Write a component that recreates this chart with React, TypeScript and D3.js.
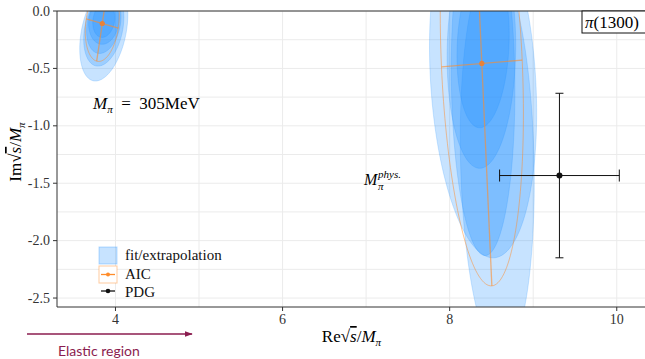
import React from "react";
import * as d3 from "d3";

const W = 645;
const H = 359;

// axis ticks
const xTicks = [4, 6, 8, 10];
const yTicks = [0, -0.5, -1, -1.5, -2, -2.5];
const xGrid = [4, 5, 6, 7, 8, 9, 10];
const yGrid = [0, -0.25, -0.5, -0.75, -1, -1.25, -1.5, -1.75, -2, -2.25, -2.5];

// fit/extrapolation ellipses: centre + two semi-axis vectors (data units)
const fitEllipsesLow = [
  { cx: 3.86, cy: -0.18, ux: 0.27, uy: 0, vx: 0.1, vy: 0.43 },
  { cx: 3.86, cy: -0.15, ux: 0.23, uy: 0, vx: 0.07, vy: 0.33 },
  { cx: 3.86, cy: -0.11, ux: 0.2, uy: 0, vx: 0.05, vy: 0.26 },
  { cx: 3.86, cy: -0.09, ux: 0.18, uy: 0, vx: 0.02, vy: 0.2 },
  { cx: 3.86, cy: -0.08, ux: 0.13, uy: 0, vx: 0.02, vy: 0.15 },
];
const fitEllipsesHigh = [
  { cx: 8.4, cy: -0.6, ux: 0.63, uy: 0, vx: -0.12, vy: 1.55 },
  { cx: 8.57, cy: -1.3, ux: 0.44, uy: 0, vx: -0.05, vy: 1.7 },
  { cx: 8.4, cy: -0.6, ux: 0.38, uy: 0, vx: -0.025, vy: 1.53 },
  { cx: 8.38, cy: -0.35, ux: 0.41, uy: 0, vx: 0.02, vy: 1.02 },
  { cx: 8.4, cy: -0.3, ux: 0.31, uy: 0, vx: 0.04, vy: 0.717 },
];

// AIC averaged poles with their error ellipses
const aicPoles = [
  { cx: 3.842, cy: -0.109, ux: 0.192, uy: -0.04, vx: -0.067, vy: -0.328 },
  { cx: 8.385, cy: -0.457, ux: 0.483, uy: 0.03, vx: 0.12, vy: -1.937 },
];

// PDG pi(1300): M = 1300 +- 100 MeV, Gamma = 200..600 MeV, in units of M_pi(phys)
const pdgX = [9.314];
const pdgY = [-1.433];
const pdgErrX = [0.7165];
const pdgErrY = [0.7165];

const BLUE = "rgb(30,144,255)";
const ORANGE = "rgb(255,140,42)";
const MAROON = "#8b1d4f";
const SERIF = "Liberation Serif, DejaVu Serif, serif";
const SANS = "Lato, Open Sans, sans-serif";

export default function App() {
  const x = d3.scaleLinear().domain([3.3, 10.35]).range([57, 646]);
  const y = d3.scaleLinear().domain([-2.578, 0]).range([307, 11]);
  const [x0, x1] = x.range();
  const [yb, yt] = y.range();

  const ellipsePath = (e: any) => {
    const pts = d3.range(0, 160).map((i) => {
      const t = (i / 160) * 2 * Math.PI;
      return [
        x(e.cx + e.ux * Math.cos(t) + e.vx * Math.sin(t)),
        y(e.cy + e.uy * Math.cos(t) + e.vy * Math.sin(t)),
      ] as [number, number];
    });
    return d3.line().curve(d3.curveLinearClosed)(pts) || "";
  };

  const allFit = [...fitEllipsesLow, ...fitEllipsesHigh];

  return (
    <svg
      width={W}
      height={H}
      style={{ position: "fixed", left: 0, top: 0, background: "#fff", fontFamily: SERIF }}
    >
      <defs>
        <clipPath id="plot">
          <rect x={x0} y={yt} width={x1 - x0} height={yb - yt} />
        </clipPath>
        <marker id="arr" viewBox="0 0 10 10" refX={9} refY={5} markerWidth={8} markerHeight={8} orient="auto" markerUnits="userSpaceOnUse">
          <path d="M0,1.5 L10,5 L0,8.5 Z" fill={MAROON} />
        </marker>
      </defs>

      {/* grid */}
      <g stroke="#ebebeb" strokeWidth={1}>
        {xGrid.map((v) => (
          <line key={"gx" + v} x1={x(v)} x2={x(v)} y1={yt} y2={yb} />
        ))}
        {yGrid.map((v) => (
          <line key={"gy" + v} x1={x0} x2={x1} y1={y(v)} y2={y(v)} />
        ))}
      </g>

      {/* ellipses */}
      <g clipPath="url(#plot)">
        {allFit.map((e, i) => (
          <path
            key={"f" + i}
            d={ellipsePath(e)}
            fill={BLUE}
            fillOpacity={0.25}
            stroke={BLUE}
            strokeOpacity={0.25}
            strokeWidth={0.8}
          />
        ))}
        {aicPoles.map((e, i) => (
          <g key={"a" + i}>
            <path d={ellipsePath(e)} fill="none" stroke={ORANGE} strokeOpacity={0.5} strokeWidth={1} />
            <line
              x1={x(e.cx - e.ux)}
              y1={y(e.cy - e.uy)}
              x2={x(e.cx + e.ux)}
              y2={y(e.cy + e.uy)}
              stroke={ORANGE}
              strokeOpacity={0.6}
              strokeWidth={1.3}
            />
            <line
              x1={x(e.cx - e.vx)}
              y1={y(e.cy - e.vy)}
              x2={x(e.cx + e.vx)}
              y2={y(e.cy + e.vy)}
              stroke={ORANGE}
              strokeOpacity={0.6}
              strokeWidth={1.3}
            />
            <circle cx={x(e.cx)} cy={y(e.cy)} r={2.6} fill="rgb(232,130,55)" />
          </g>
        ))}
        {/* PDG */}
        {pdgX.map((px, i) => (
          <g key={"p" + i} stroke="#111" strokeWidth={1}>
            <line x1={x(px - pdgErrX[i])} x2={x(px + pdgErrX[i])} y1={y(pdgY[i])} y2={y(pdgY[i])} />
            <line x1={x(px - pdgErrX[i])} x2={x(px - pdgErrX[i])} y1={y(pdgY[i]) - 6} y2={y(pdgY[i]) + 6} />
            <line x1={x(px + pdgErrX[i])} x2={x(px + pdgErrX[i])} y1={y(pdgY[i]) - 6} y2={y(pdgY[i]) + 6} />
            <line x1={x(px)} x2={x(px)} y1={y(pdgY[i] - pdgErrY[i])} y2={y(pdgY[i] + pdgErrY[i])} />
            <line x1={x(px) - 4} x2={x(px) + 4} y1={y(pdgY[i] - pdgErrY[i])} y2={y(pdgY[i] - pdgErrY[i])} />
            <line x1={x(px) - 4} x2={x(px) + 4} y1={y(pdgY[i] + pdgErrY[i])} y2={y(pdgY[i] + pdgErrY[i])} />
            <circle cx={x(px)} cy={y(pdgY[i])} r={3} fill="#111" stroke="none" />
          </g>
        ))}
      </g>

      {/* axes */}
      <g stroke="#333" strokeWidth={1}>
        <line x1={x0} x2={x0} y1={yt} y2={yb} />
        <line x1={x0} x2={x1} y1={yb} y2={yb} />
        <line x1={x0} x2={x1} y1={yt} y2={yt} />
        {yTicks.map((v) => (
          <line key={"ty" + v} x1={x0 - 4} x2={x0} y1={y(v)} y2={y(v)} />
        ))}
        {xTicks.map((v) => (
          <line key={"tx" + v} x1={x(v)} x2={x(v)} y1={yb} y2={yb + 4} />
        ))}
      </g>
      <g fontSize={14} fill="#333" style={{ fontFamily: SERIF }}>
        {yTicks.map((v) => (
          <text key={"ly" + v} x={x0 - 7} y={y(v) + 4.5} textAnchor="end" style={{ fontFamily: SERIF }}>
            {d3.format(".1f")(v).replace("−", "-")}
          </text>
        ))}
        {xTicks.map((v) => (
          <text key={"lx" + v} x={x(v)} y={yb + 17} textAnchor="middle" style={{ fontFamily: SERIF }}>
            {v}
          </text>
        ))}
      </g>

      {/* axis titles */}
      <text x={(x0 + x1) / 2} y={342} textAnchor="middle" fontSize={17} style={{ fontFamily: SERIF }}>
        Re√<tspan fontStyle="italic" textDecoration="overline">s</tspan>/<tspan fontStyle="italic">M</tspan>
        <tspan fontStyle="italic" fontSize={11} dy={4}>π</tspan>
      </text>
      <text transform="translate(21,152) rotate(-90)" textAnchor="middle" fontSize={17} style={{ fontFamily: SERIF }}>
        Im√<tspan fontStyle="italic" textDecoration="overline">s</tspan>/<tspan fontStyle="italic">M</tspan>
        <tspan fontStyle="italic" fontSize={11} dy={4}>π</tspan>
      </text>

      {/* annotations */}
      <text x={93} y={109} fontSize={17} style={{ fontFamily: SERIF }}>
        <tspan fontStyle="italic">M</tspan>
        <tspan fontStyle="italic" fontSize={11} dy={4}>π</tspan>
        <tspan dy={-4}>{"\u2002=\u2002305MeV"}</tspan>
      </text>
      <text x={364} y={185} fontSize={16} fontStyle="italic" style={{ fontFamily: SERIF }}>
        M
      </text>
      <text x={378} y={178} fontSize={11} fontStyle="italic" style={{ fontFamily: SERIF }}>
        phys.
      </text>
      <text x={378} y={190} fontSize={11} fontStyle="italic" style={{ fontFamily: SERIF }}>
        π
      </text>

      <rect x={582} y={yt} width={70} height={22} fill="#fff" stroke="#111" strokeWidth={1} />
      <text x={585} y={28} fontSize={17} style={{ fontFamily: SERIF }}>
        <tspan fontStyle="italic">π</tspan>(1300)
      </text>

      {/* legend */}
      <g fontSize={15} fill="#111">
        <rect x={99} y={247} width={18} height={17} fill={BLUE} fillOpacity={0.25} stroke={BLUE} strokeOpacity={0.3} />
        <text x={125} y={260} style={{ fontFamily: SERIF }}>fit/extrapolation</text>
        <rect x={99} y={266} width={18} height={17} fill="#fff" stroke={ORANGE} strokeOpacity={0.45} />
        <line x1={101} x2={115} y1={274.5} y2={274.5} stroke={ORANGE} strokeWidth={1.3} />
        <circle cx={108} cy={274.5} r={2} fill={ORANGE} />
        <text x={125} y={279} style={{ fontFamily: SERIF }}>AIC</text>
        <line x1={101} x2={115} y1={291} y2={291} stroke="#111" strokeWidth={1.3} />
        <circle cx={108} cy={291} r={2.3} fill="#111" />
        <text x={125} y={297} style={{ fontFamily: SERIF }}>PDG</text>
      </g>

      {/* elastic region */}
      <line x1={27} x2={192} y1={334} y2={334} stroke={MAROON} strokeWidth={1.5} markerEnd="url(#arr)" />
      <text x={58} y={356} fontSize={14} fill={MAROON} style={{ fontFamily: SANS }}>
        Elastic region
      </text>
    </svg>
  );
}
